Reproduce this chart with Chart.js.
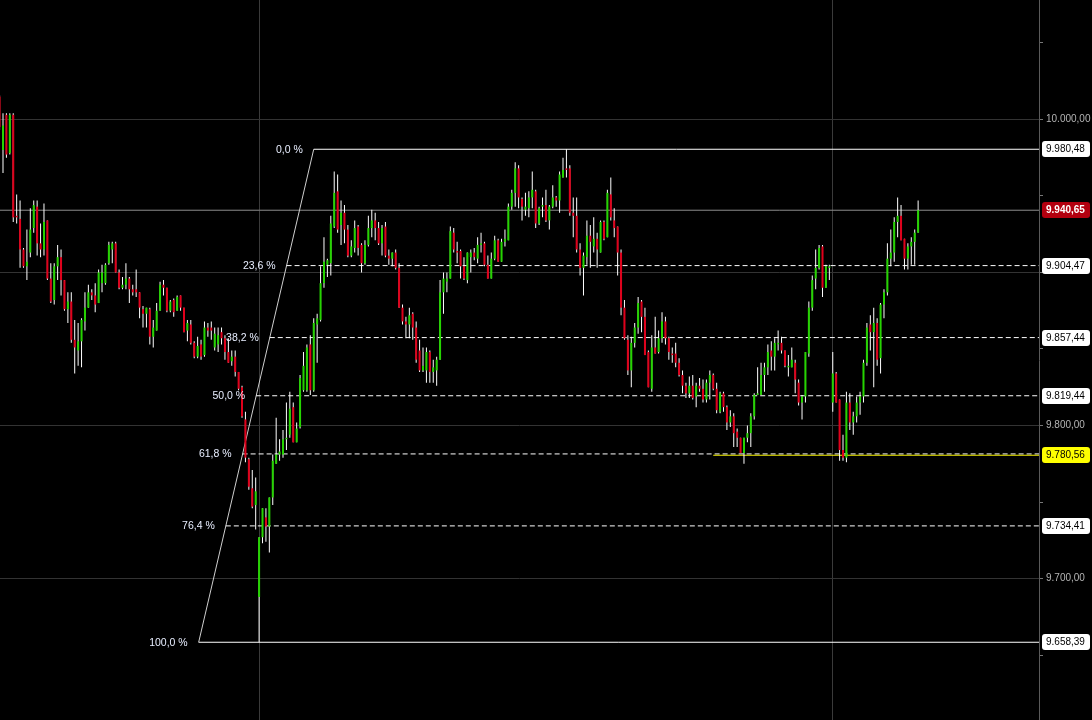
<!DOCTYPE html>
<html>
<head>
<meta charset="utf-8">
<script src="https://cdn.jsdelivr.net/npm/chart.js@4/dist/chart.umd.min.js"></script>
<style>
  html, body { margin: 0; padding: 0; background: #000; }
  #wrap { width: 1092px; height: 720px; position: relative; }
</style>
</head>
<body>
<div id="wrap"><canvas id="c"></canvas></div>
<script>
// ---- Data (index of first candle) ----
const firstIndex = -1;
const opens = [10015,
9980,10003,9978,10003,9937,9935,9915,9904,9913,9929,9943,9919,9915,9934,9896,9882,9904,9910,9895,9876,
9881,9856,9849,9855,9868,9877,9887,9885,9880,9893,9893,9906,9915,9919,9900,9890,9892,9896,9889,9889,
9887,9876,9873,9876,9858,9862,9875,9892,9890,9875,9882,9875,9885,9877,9862,9866,9854,9845,9853,9846,
9864,9864,9851,9853,9861,9857,9848,9842,9845,9835,9825,9804,9778,9759,9748,9688,9727,9740,9734,9753,
9775,9781,9781,9791,9794,9812,9789,9799,9823,9823,9853,9823,9866,9869,9893,9905,9906,9930,9953,9931,
9939,9928,9911,9916,9930,9918,9906,9918,9929,9934,9929,9919,9930,9911,9909,9913,9903,9877,9868,9866,
9873,9864,9849,9836,9836,9848,9835,9836,9843,9887,9894,9896,9926,9914,9914,9904,9895,9910,9913,9909,
9918,9919,9905,9896,9909,9921,9907,9920,9921,9943,9952,9968,9948,9941,9942,9949,9953,9932,9943,9944,
9934,9943,9949,9947,9962,9968,9968,9939,9937,9915,9903,9910,9924,9917,9922,9913,9933,9923,9951,9934,
9930,9913,9877,9856,9836,9854,9864,9881,9871,9848,9824,9851,9848,9857,9868,9857,9847,9847,9841,9833,
9826,9821,9826,9819,9826,9824,9817,9828,9833,9824,9809,9821,9812,9802,9806,9796,9792,9782,9792,9795,
9806,9820,9820,9833,9838,9849,9845,9853,9854,9849,9838,9838,9841,9828,9815,9819,9847,9877,9896,9903,
9917,9890,9903,9815,9834,9817,9784,9779,9815,9802,9806,9815,9819,9841,9866,9861,9867,9844,9879,9887,
9909,9913,9933,9937,9922,9909,9917,9920,9926];
const highs = [10016,
10004,10004,10004,10004,9951,9947,9916,9928,9942,9947,9947,9932,9945,9934,9906,9906,9918,9915,9895,9887,
9887,9869,9867,9870,9887,9892,9889,9893,9902,9905,9906,9920,9920,9920,9902,9897,9906,9897,9892,9902,
9887,9878,9877,9877,9869,9880,9894,9895,9890,9882,9883,9885,9885,9877,9869,9869,9855,9858,9856,9868,
9867,9868,9864,9864,9864,9859,9857,9849,9849,9835,9826,9809,9779,9771,9766,9727,9746,9746,9753,9781,
9805,9791,9797,9815,9822,9815,9802,9833,9848,9853,9859,9870,9873,9904,9923,9909,9937,9966,9964,9947,
9944,9931,9921,9934,9931,9919,9921,9937,9941,9939,9933,9931,9933,9915,9913,9915,9906,9879,9871,9877,
9874,9868,9856,9851,9851,9849,9843,9845,9895,9900,9900,9930,9929,9920,9915,9910,9913,9915,9916,9923,
9926,9920,9911,9913,9924,9922,9922,9928,9945,9954,9972,9970,9949,9952,9953,9966,9954,9943,9949,9954,
9944,9957,9950,9966,9975,9980.48,9970,9949,9949,9919,9913,9934,9931,9936,9926,9934,9934,9954,9962,9942,
9930,9915,9882,9859,9858,9867,9884,9882,9877,9849,9859,9871,9862,9874,9871,9858,9851,9854,9844,9836,
9828,9832,9833,9828,9831,9830,9830,9836,9834,9828,9822,9822,9813,9810,9808,9798,9792,9792,9800,9808,
9821,9838,9841,9841,9853,9855,9857,9862,9858,9849,9846,9851,9843,9830,9820,9848,9881,9898,9915,9918,
9918,9905,9905,9848,9835,9817,9794,9822,9821,9809,9819,9822,9843,9867,9872,9877,9870,9880,9889,9919,
9928,9936,9949,9944,9922,9919,9923,9928,9947];
const lows = [9993,
9965,9975,9977,9933,9932,9903,9903,9895,9910,9926,9911,9910,9911,9895,9880,9879,9895,9885,9875,9867,
9854,9834,9839,9838,9862,9877,9882,9874,9880,9887,9892,9905,9906,9900,9889,9889,9889,9880,9885,9884,
9870,9864,9864,9853,9851,9862,9875,9885,9874,9874,9871,9875,9875,9861,9855,9853,9844,9844,9843,9845,
9858,9856,9849,9848,9853,9843,9841,9839,9832,9823,9805,9776,9758,9746,9732,9658.39,9723,9724,9717,9748,
9775,9777,9779,9784,9792,9789,9789,9798,9822,9822,9820,9822,9841,9868,9890,9897,9898,9929,9926,9918,
9919,9910,9910,9913,9911,9900,9905,9917,9923,9921,9918,9911,9910,9905,9904,9902,9877,9866,9857,9857,
9856,9841,9835,9835,9828,9828,9828,9826,9843,9873,9887,9896,9913,9906,9896,9895,9893,9900,9908,9906,
9913,9904,9896,9896,9908,9907,9907,9917,9921,9941,9943,9942,9934,9937,9936,9942,9929,9931,9936,9933,
9928,9942,9943,9939,9962,9962,9937,9923,9913,9898,9885,9905,9903,9913,9903,9913,9921,9923,9934,9923,
9898,9872,9856,9833,9825,9851,9860,9861,9846,9825,9822,9847,9847,9854,9853,9843,9841,9838,9832,9821,
9818,9818,9817,9812,9822,9815,9815,9817,9823,9808,9808,9809,9797,9799,9786,9786,9782,9775,9789,9786,
9804,9820,9820,9822,9833,9836,9836,9849,9847,9838,9832,9838,9821,9813,9804,9815,9845,9875,9889,9902,
9884,9890,9895,9809,9815,9777,9777,9776,9797,9794,9802,9807,9815,9839,9849,9825,9839,9834,9870,9885,
9904,9907,9923,9921,9902,9902,9905,9905,9926];
const closes = [9995,
9996,9977,10003,9936,9936,9915,9904,9907,9928,9944,9919,9915,9933,9896,9881,9904,9910,9895,9876,9881,
9856,9851,9855,9869,9877,9887,9885,9879,9900,9900,9905,9918,9919,9900,9890,9892,9896,9889,9887,9887,
9877,9873,9877,9858,9864,9875,9892,9890,9875,9881,9874,9884,9877,9861,9867,9854,9845,9852,9845,9864,
9862,9862,9860,9859,9857,9848,9841,9845,9835,9824,9806,9779,9760,9747,9757,9727,9746,9734,9753,9777,
9781,9783,9791,9792,9811,9789,9798,9831,9839,9851,9823,9867,9870,9893,9907,9908,9932,9952,9928,9939,
9928,9911,9917,9929,9916,9906,9918,9929,9934,9929,9919,9929,9911,9909,9913,9903,9877,9868,9866,9872,
9864,9843,9836,9839,9848,9835,9838,9843,9887,9896,9896,9927,9915,9913,9904,9896,9913,9913,9910,9918,
9919,9905,9896,9909,9921,9907,9920,9922,9943,9952,9968,9949,9943,9943,9949,9954,9932,9942,9944,9934,
9943,9949,9947,9964,9967,9967,9939,9937,9915,9903,9911,9924,9920,9922,9915,9933,9922,9952,9936,9929,
9913,9877,9857,9836,9854,9864,9880,9871,9846,9825,9851,9847,9857,9868,9857,9848,9846,9841,9833,9826,
9821,9826,9818,9826,9824,9817,9828,9833,9824,9810,9821,9812,9802,9806,9795,9792,9782,9792,9795,9806,
9820,9821,9833,9838,9848,9845,9854,9854,9849,9839,9839,9843,9830,9815,9819,9848,9877,9895,9903,9916,
9890,9904,9904,9834,9815,9784,9779,9815,9802,9806,9815,9819,9841,9864,9861,9867,9843,9879,9887,9909,
9913,9933,9937,9921,9909,9917,9920,9926,9940.65];

// Fibonacci retracement tool (anchors in candle index / price, levels as shown)
const fibLowX = 57.3;
const fibHighX = 91.0;
const fibLevels = [0, 23.6, 38.2, 50, 61.8, 76.4, 100];
const fibLabels = ['0,0 %', '23,6 %', '38,2 %', '50,0 %', '61,8 %', '76,4 %', '100,0 %'];
const fibPrices = [9980.48, 9904.47, 9857.44, 9819.44, 9781.43, 9734.41, 9658.39];

// Support line drawn on the chart
const supportPrice = 9780.56;
const supportStart = 208;

// Session starts (vertical separators)
const sessionStarts = [75, 243];

// Axis
const yTickValues = [9650, 9700, 9750, 9800, 9850, 9900, 9950, 10000, 10050];
const yLabelledTicks = [9700, 9800, 10000];
const yMin = 9607.6, yMax = 10078.0;
const xMin = -0.878, xMax = 303.4;

// ---- Helpers ----
function fmt(v) {
  const s = v.toFixed(2);
  let [int, dec] = s.split('.');
  int = int.replace(/\B(?=(\d{3})+(?!\d))/g, '.');
  return int + ',' + dec;
}
const GREEN = '#25d400';
const RED = '#e0001b';

const idx = opens.map((_, k) => k + firstIndex);
const bodies = idx.map((x, k) => ({ x: x, y: [opens[k], closes[k]] }));
const wicks = idx.map((x, k) => ({ x: x, y: [lows[k], highs[k]] }));
const bodyColors = idx.map((_, k) => closes[k] >= opens[k] ? GREEN : RED);

const lowPrice = fibPrices[fibPrices.length - 1];
const highPrice = fibPrices[0];
const fibStartX = fibLevels.map(f => fibLowX + (1 - f / 100) * (fibHighX - fibLowX));
const lastPrice = closes[closes.length - 1];

const lineDatasets = [];
fibLevels.forEach((f, k) => {
  const solid = (f === 0 || f === 100);
  lineDatasets.push({
    type: 'line',
    data: [{ x: fibStartX[k], y: fibPrices[k] }, { x: xMax, y: fibPrices[k] }],
    borderColor: '#ffffff', borderWidth: 1,
    borderDash: solid ? [] : [5, 3],
    pointRadius: 0, order: 5
  });
});
lineDatasets.push({
  type: 'line',
  data: [{ x: fibLowX, y: lowPrice }, { x: fibHighX, y: highPrice }],
  borderColor: '#cfcfcf', borderWidth: 1, pointRadius: 0, order: 5
});
lineDatasets.push({
  type: 'line',
  data: [{ x: xMin, y: lastPrice }, { x: xMax, y: lastPrice }],
  borderColor: '#8c8c8c', borderWidth: 1, pointRadius: 0, order: 6
});
lineDatasets.push({
  type: 'line',
  data: [{ x: supportStart, y: supportPrice }, { x: xMax, y: supportPrice }],
  borderColor: '#f5f000', borderWidth: 1, pointRadius: 0, order: 4
});

const labelPlugin = {
  id: 'labels',
  afterDraw(chart) {
    const ctx = chart.ctx;
    const xs = chart.scales.x, ys = chart.scales.y;
    ctx.save();
    // Fibonacci percentage labels
    ctx.font = '10.5px "Liberation Sans", Arial, sans-serif';
    ctx.fillStyle = '#e8eeff';
    ctx.textAlign = 'right';
    ctx.textBaseline = 'middle';
    fibLevels.forEach((f, k) => {
      const px = xs.getPixelForValue(fibStartX[k]);
      const py = ys.getPixelForValue(fibPrices[k]);
      ctx.fillText(fibLabels[k], px - 11, py + 0.5);
    });
    // Price boxes on the axis
    const boxes = [];
    fibLevels.forEach((f, k) => {
      if (f === 61.8) return;
      boxes.push({ v: fibPrices[k], bg: '#ffffff', fg: '#000000', bold: false });
    });
    boxes.push({ v: supportPrice, bg: '#ffff00', fg: '#000000', bold: false });
    boxes.push({ v: lastPrice, bg: '#b3000f', fg: '#ffffff', bold: true });
    const bx = 1042, bw = 48, bh = 16, r = 3;
    boxes.forEach(b => {
      const cy = Math.round(ys.getPixelForValue(b.v));
      const top = cy - bh / 2;
      ctx.beginPath();
      ctx.moveTo(bx + r, top);
      ctx.lineTo(bx + bw - r, top);
      ctx.quadraticCurveTo(bx + bw, top, bx + bw, top + r);
      ctx.lineTo(bx + bw, top + bh - r);
      ctx.quadraticCurveTo(bx + bw, top + bh, bx + bw - r, top + bh);
      ctx.lineTo(bx + r, top + bh);
      ctx.quadraticCurveTo(bx, top + bh, bx, top + bh - r);
      ctx.lineTo(bx, top + r);
      ctx.quadraticCurveTo(bx, top, bx + r, top);
      ctx.closePath();
      ctx.fillStyle = b.bg;
      ctx.fill();
      ctx.fillStyle = b.fg;
      ctx.font = (b.bold ? 'bold ' : '') + '10px "Liberation Sans", Arial, sans-serif';
      ctx.textAlign = 'left';
      ctx.textBaseline = 'middle';
      ctx.fillText(fmt(b.v), bx + 4, cy + 0.5);
    });
    ctx.restore();
  }
};

new Chart(document.getElementById('c'), {
  type: 'bar',
  data: {
    datasets: [
      {
        type: 'bar', data: bodies, backgroundColor: bodyColors,
        barThickness: 2, grouped: false, minBarLength: 1, inflateAmount: 0, order: 1
      },
      {
        type: 'bar', data: wicks, backgroundColor: '#ffffff',
        barThickness: 1, grouped: false, minBarLength: 1, inflateAmount: 0, order: 2
      },
      ...lineDatasets
    ]
  },
  options: {
    responsive: true,
    maintainAspectRatio: false,
    animation: false,
    events: [],
    layout: { padding: 0 },
    plugins: { legend: { display: false }, tooltip: { enabled: false } },
    scales: {
      x: {
        type: 'linear', min: xMin, max: xMax, offset: false,
        ticks: { display: false },
        grid: { color: '#3a3a3a', lineWidth: 1, drawTicks: false, offset: false },
        border: { display: false },
        afterBuildTicks: s => { s.ticks = sessionStarts.map(v => ({ value: v })); },
        afterFit: s => { s.height = 0; s.paddingLeft = 0; s.paddingRight = 0; s.paddingTop = 0; s.paddingBottom = 0; }
      },
      y: {
        type: 'linear', position: 'right', min: yMin, max: yMax,
        afterBuildTicks: s => { s.ticks = yTickValues.map(v => ({ value: v })); },
        afterFit: s => { s.width = 53; s.paddingTop = 0; s.paddingBottom = 0; },
        ticks: {
          color: '#b4b4b4',
          font: { family: '"Liberation Sans", Arial, sans-serif', size: 10 },
          padding: 3,
          callback: v => yLabelledTicks.includes(v) ? fmt(v) : ''
        },
        grid: {
          color: c => (c.tick && c.tick.value % 100 === 0) ? '#333333' : 'rgba(0,0,0,0)',
          tickColor: '#777777',
          tickLength: 4,
          drawOnChartArea: true
        },
        border: { display: true, color: '#5a5a5a' }
      }
    }
  },
  plugins: [labelPlugin]
});
</script>
</body>
</html>
